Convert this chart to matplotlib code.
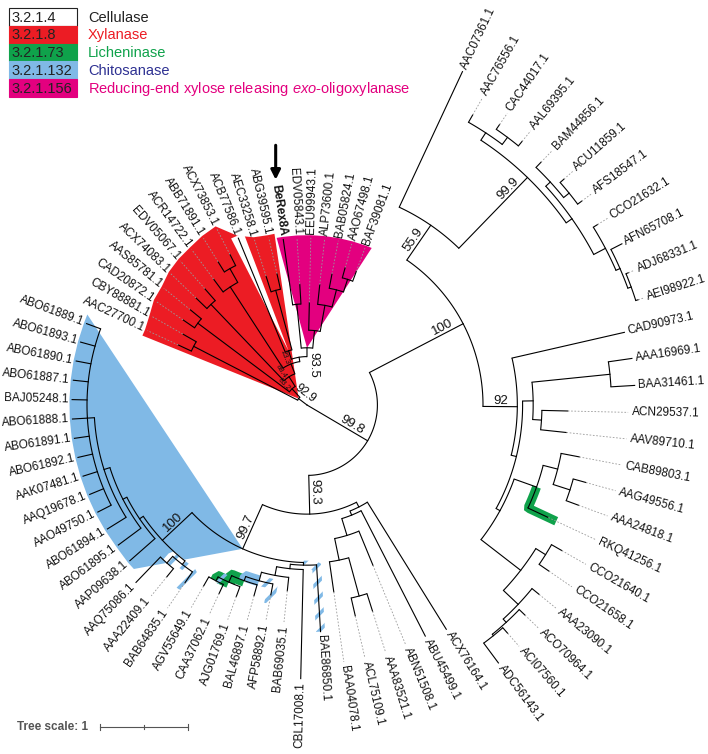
import numpy as np
import matplotlib
matplotlib.use("Agg")
import matplotlib.pyplot as plt
from matplotlib.patches import Polygon, Rectangle

plt.rcParams['font.family'] = ['Liberation Sans', 'DejaVu Sans']
plt.rcParams['mathtext.fontset'] = 'custom'
plt.rcParams['mathtext.rm'] = 'Liberation Sans'
plt.rcParams['mathtext.it'] = 'Liberation Sans:italic'
plt.rcParams['hatch.linewidth'] = 2.5

# tree (newick), branch lengths in "Tree scale" units, bootstrap as node labels
right_clade = ("((AAC07361.1:1.7,((AAC76556.1:0.32,(CAC44017.1:0.22,AAL69395.1:0.22):0.1):0.1,"
               "((BAM44856.1:0.27,(ACU11859.1:0.19,AFS18547.1:0.19):0.08):0.07,"
               "(CCO21632.1:0.19,(AFN65708.1:0.14,(ADJ68331.1:0.1,AEI98922.1:0.1):0.04):0.05):0.15):0.08)99.9:1.12)55.9:0.48,"
               "(CAD90973.1:1.31,(((AAA16969.1:0.27,BAA31461.1:0.27):0.89,(ACN29537.1:0.98,AAV89710.1:0.98):0.1):0.12,"
               "(((CAB89803.1:0.7,(AAG49556.1:0.5,AAA24818.1:0.5):0.2):0.17,RKQ41256.1:0.85):0.27,"
               "((CCO21640.1:0.45,CCO21658.1:0.45):0.13,(AAA23090.1:0.35,(ACO70964.1:0.3,"
               "(ACI07560.1:0.28,ADC56143.1:0.28):0.02):0.05):0.23):0.57):0.05):0.06)92:0.39)100:1.2")
bottom_clade = ("((ACX76164.1:1.7,(ABU45499.1:1.6,(ABN51508.1:1.4,((AAA83521.1:0.7,ACL75109.1:0.7):0.45,"
                "BAA04078.1:1.15):0.25):0.2):0.05):0.06,"
                "((BAE86850.1:0.76,(CBL17008.1:1.24,(BAB69035.1:0.51,(AFP58892.1:0.43,(BAL46897.1:0.43,"
                "(AJG01769.1:0.4,(CAA37062.1:0.38,AGV55649.1:0.4):0.05):0.08):0.05):0.1):0.1):0.05):0.03,"
                "((BAB64835.1:0.5,(AAA22409.1:0.4,AAQ75086.1:0.4):0.1):0.05,(AAP09638.1:0.38,(ABO61895.1:0.32,"
                "(ABO61894.1:0.25,(AAO49750.1:0.17,AAQ19678.1:0.17,AAK07481.1:0.17,ABO61892.1:0.17,"
                "ABO61891.1:0.17,ABO61888.1:0.17,BAJ05248.1:0.17,ABO61887.1:0.17,ABO61890.1:0.17,"
                "ABO61893.1:0.17,ABO61889.1:0.17):0.08):0.07):0.05):0.05)100:0.46)99.7:0.55)93.3:0.44")
top_clade = ("((AAC27700.1:0.55,CBY88881.1:0.58):1.33,((CAD20872.1:0.53,AAS85781.1:0.55):1.3,"
             "((ACX74083.1:0.57,EDV05067.1:0.6):1.2,((ACR14722.1:0.6,(ABB71891.1:0.45,ACX73853.1:0.47):0.18):1.1,"
             "((ACB77586.1:1.4,(AEC33258.1:0.62,ABG39595.1:0.6):0.7):0.1,"
             "((BeRex8A:0.75,EDV05843.1:0.75):0.5,(EEU99943.1:1.05,(ALP73600.1:0.75,(BAB05824.1:0.55,"
             "(AAO67498.1:0.4,BAF39081.1:0.4):0.15):0.2):0.3):0.2)93.5:0.1):0.05)23.3:0.12)88.4:0.13)83.2:0.13)92.9:0.12")
newick = "((" + right_clade + "," + bottom_clade + ")99.8:0.8," + top_clade + ");"

# leaves whose outer part of the branch is dashed
dashed_leaves = ["AAC76556.1", "CAC44017.1", "AAL69395.1", "BAM44856.1", "ACU11859.1", "AFS18547.1",
                 "CCO21632.1", "ADJ68331.1", "AEI98922.1", "ACN29537.1", "AAV89710.1", "CAB89803.1",
                 "AAG49556.1", "AAA24818.1", "RKQ41256.1", "CCO21640.1", "CCO21658.1", "AAA23090.1",
                 "ACO70964.1", "ACI07560.1", "ABN51508.1", "AAA83521.1", "ACL75109.1",
                 "BAA04078.1", "BAB69035.1", "AFP58892.1", "BAL46897.1", "AJG01769.1", "CAA37062.1",
                 "AGV55649.1", "BAB64835.1", "AAA22409.1", "AAC27700.1", "CBY88881.1", "CAD20872.1",
                 "AAS85781.1", "ACX74083.1", "EDV05067.1", "ACR14722.1", "ABB71891.1", "ACX73853.1",
                 "AEC33258.1", "ABG39595.1", "EDV05843.1", "EEU99943.1", "ALP73600.1", "BAB05824.1",
                 "AAO67498.1", "BAF39081.1"]

# legend
ec_numbers = ["3.2.1.4", "3.2.1.8", "3.2.1.73", "3.2.1.132", "3.2.1.156"]
ec_names = ["Cellulase", "Xylanase", "Licheninase", "Chitosanase",
            r"Reducing-end xylose releasing $\it{exo}$-oligoxylanase"]
ec_fill = ["white", "#ec1c24", "#0fa24b", "#80b9e6", "#e3007f"]
ec_text = ["#222222", "#ec1c24", "#0fa24b", "#2e3192", "#e3007f"]

red, green, blue, magenta = ec_fill[1], ec_fill[2], ec_fill[3], ec_fill[4]

# coloured clade ranges: first leaf, last leaf, colour, levels above the mrca for the apex
ranges = [("AAC27700.1", "ABG39595.1", red, 0),
          ("ACB77586.1", "ACB77586.1", "white", 1),
          ("BeRex8A", "BAF39081.1", magenta, 0),
          ("AAP09638.1", "ABO61889.1", blue, 2)]

# coloured branches: leaf a, leaf b (mrca), fill, hatch colour, width px
branch_bands = [("RKQ41256.1", None, green, None, 9),
                ("AJG01769.1", "AGV55649.1", green, None, 12),
                ("CAA37062.1", "AGV55649.1", green, blue, 12),
                ("BAL46897.1", "AGV55649.1", blue, None, 11),
                ("AFP58892.1", None, "white", blue, 10),
                ("BAE86850.1", None, "white", blue, 9),
                ("AAA22409.1", "AAQ75086.1", "white", blue, 10),
                ("BAB64835.1", None, "white", blue, 9)]

# layout
cx, cy = 307, 405
px = 88.0
theta0 = 65.0
step = 360.0 / 76
solid_frac = 0.3
lw = 0.8


def parse(s):
    pos = 0

    def node():
        nonlocal pos
        n = {'children': [], 'name': '', 'len': 0.0}
        if s[pos] == '(':
            pos += 1
            while True:
                n['children'].append(node())
                if s[pos] == ',':
                    pos += 1
                    continue
                pos += 1
                break
        start = pos
        while s[pos] not in ':,();':
            pos += 1
        n['name'] = s[start:pos]
        if s[pos] == ':':
            pos += 1
            start = pos
            while s[pos] not in ',();':
                pos += 1
            n['len'] = float(s[start:pos])
        return n
    return node()


root = parse(newick)
leaves = []


def collect(n, parent=None):
    n['parent'] = parent
    if not n['children']:
        leaves.append(n)
    for c in n['children']:
        collect(c, n)


collect(root)
by_name = {lf['name']: lf for lf in leaves}
for i, lf in enumerate(leaves):
    lf['theta'] = theta0 - step * i


def place(n, r):
    n['r'] = r
    for c in n['children']:
        place(c, r + c['len'])
    if n['children']:
        n['theta'] = 0.5 * (n['children'][0]['theta'] + n['children'][-1]['theta'])


place(root, 0.0)


def xy(r, t):
    a = np.radians(t)
    return cx + np.asarray(r) * px * np.cos(a), cy - np.asarray(r) * px * np.sin(a)


def flipped(t):
    return 89.5 < t % 360 <= 270


def rot(t):
    return t % 360 - 180 if flipped(t) else t % 360


def ancestors(n):
    out = []
    while n is not None:
        out.append(n)
        n = n['parent']
    return out


def mrca(a, b):
    pa = ancestors(by_name[a])
    for n in ancestors(by_name[b]):
        if any(n is m for m in pa):
            return n


fig = plt.figure(figsize=(7.08, 7.54), dpi=100)
ax = fig.add_axes([0, 0, 1, 1])
ax.set_xlim(0, 708)
ax.set_ylim(754, 0)
ax.axis('off')

# ranges
for a, b, col, up in ranges:
    node = mrca(a, b)
    for _ in range(up):
        node = node['parent']
    i0 = leaves.index(by_name[a])
    i1 = leaves.index(by_name[b])
    sub = leaves[i0:i1 + 1]
    pts = [xy(node['r'], node['theta'])]
    pts.append(xy(sub[0]['r'] + 0.03, sub[0]['theta'] + step * 0.45))
    for lf in sub:
        pts.append(xy(lf['r'] + 0.03, lf['theta']))
    pts.append(xy(sub[-1]['r'] + 0.03, sub[-1]['theta'] - step * 0.45))
    ax.add_patch(Polygon(np.array(pts), closed=True, facecolor=col, edgecolor='none', zorder=1))


def band_poly(pts, w):
    pts = np.asarray(pts, dtype=float)
    d = np.gradient(pts, axis=0)
    nrm = np.stack([-d[:, 1], d[:, 0]], axis=1)
    nrm /= np.linalg.norm(nrm, axis=1, keepdims=True)
    return np.vstack([pts + nrm * w / 2, (pts - nrm * w / 2)[::-1]])


for a, b, face, hcol, w in branch_bands:
    node = by_name[a] if b is None else mrca(a, b)
    par = node['parent']
    r_end = node['r']
    if not node['children'] and node['name'] in dashed_leaves:
        r_end = par['r'] + solid_frac * node['len'] + 0.1
    t = np.linspace(par['theta'], node['theta'], 20)
    path = [xy(par['r'], tt) for tt in t]
    path += [xy(rr, node['theta']) for rr in np.linspace(par['r'], r_end, 20)[1:]]
    poly = band_poly(path, w)
    if hcol is None:
        ax.add_patch(Polygon(poly, closed=True, facecolor=face, edgecolor='none', zorder=2))
    else:
        ax.add_patch(Polygon(poly, closed=True, facecolor=face, edgecolor=hcol, hatch='//',
                             linewidth=0, zorder=2))


# branches
def draw(n):
    if not n['children']:
        return
    t = np.linspace(n['children'][0]['theta'], n['children'][-1]['theta'], 80)
    x, y = xy(n['r'], t)
    ax.plot(x, y, color='k', lw=lw, zorder=3, solid_capstyle='butt')
    for c in n['children']:
        if c['children'] or c['name'] not in dashed_leaves:
            ax.plot(*xy([n['r'], c['r']], c['theta']), color='k', lw=lw, zorder=3)
        else:
            rs = n['r'] + solid_frac * c['len']
            ax.plot(*xy([n['r'], rs], c['theta']), color='k', lw=lw, zorder=3)
            ax.plot(*xy([rs, c['r']], c['theta']), color='#9a9a9a', lw=0.6,
                    linestyle=(0, (2, 2)), zorder=3)
        draw(c)


draw(root)

# leaf labels
for lf in leaves:
    x, y = xy(lf['r'] + 0.04, lf['theta'])
    bold = lf['name'] == 'BeRex8A'
    ax.text(x, y, lf['name'], rotation=rot(lf['theta']), rotation_mode='anchor',
            ha='right' if flipped(lf['theta']) else 'left', va='center',
            fontsize=8.5, fontweight='bold' if bold else 'normal', color='#111111', zorder=4)
    if bold:
        ex, ey = xy(lf['r'] + 0.04 + 50 / px, lf['theta'])
        ax.annotate('', xy=(ex, ey - 4), xytext=(ex, ey - 44),
                    arrowprops=dict(arrowstyle='-|>', lw=2.2, color='k', mutation_scale=14))


# bootstrap values
def boot(n):
    for c in n['children']:
        if c['children'] and c['name']:
            if c['r'] < 0.2:
                x, y = xy(c['r'], c['theta'])
                ax.text(x + 3, y, c['name'], rotation=rot(c['theta']), rotation_mode='anchor',
                        ha='center', va='bottom', fontsize=8.5, color='#111111', zorder=4)
            elif c['r'] < 0.6:
                x, y = xy(c['r'] + 0.1, c['theta'])
                ax.text(x, y, c['name'], rotation=rot(c['theta']), rotation_mode='anchor',
                        ha='center', va='top', fontsize=5.5, color='#111111', zorder=4)
            else:
                x, y = xy(max(c['r'] - 0.1, 0.5 * (n['r'] + c['r'])), c['theta'])
                ax.text(x, y, c['name'], rotation=rot(c['theta']), rotation_mode='anchor',
                        ha='left' if flipped(c['theta']) else 'right', va='bottom',
                        fontsize=9.5, color='#111111', zorder=4)
        boot(c)


boot(root)

# legend
for i, (num, name) in enumerate(zip(ec_numbers, ec_names)):
    y0 = 8 + 17.8 * i
    ax.add_patch(Rectangle((9, y0), 68, 17.8, facecolor=ec_fill[i],
                           edgecolor='#222222' if i == 0 else ec_fill[i], lw=0.8, zorder=5))
    ax.text(11, y0 + 9.5, num, fontsize=10.5, va='center', ha='left', color='#222222', zorder=6)
    ax.text(88, y0 + 9.5, name, fontsize=10.5, va='center', ha='left', color=ec_text[i], zorder=6)

# tree scale
ax.text(17, 727, "Tree scale: 1", fontsize=8.5, fontweight='bold', color='#555555', va='center', ha='left')
ax.plot([100, 100 + px], [727, 727], color='#555555', lw=0.8)
for xt in [100, 100 + px / 2, 100 + px]:
    ax.plot([xt, xt], [724, 730] if xt != 100 + px / 2 else [725, 729], color='#555555', lw=0.8)

fig.savefig("out.png", dpi=100)
